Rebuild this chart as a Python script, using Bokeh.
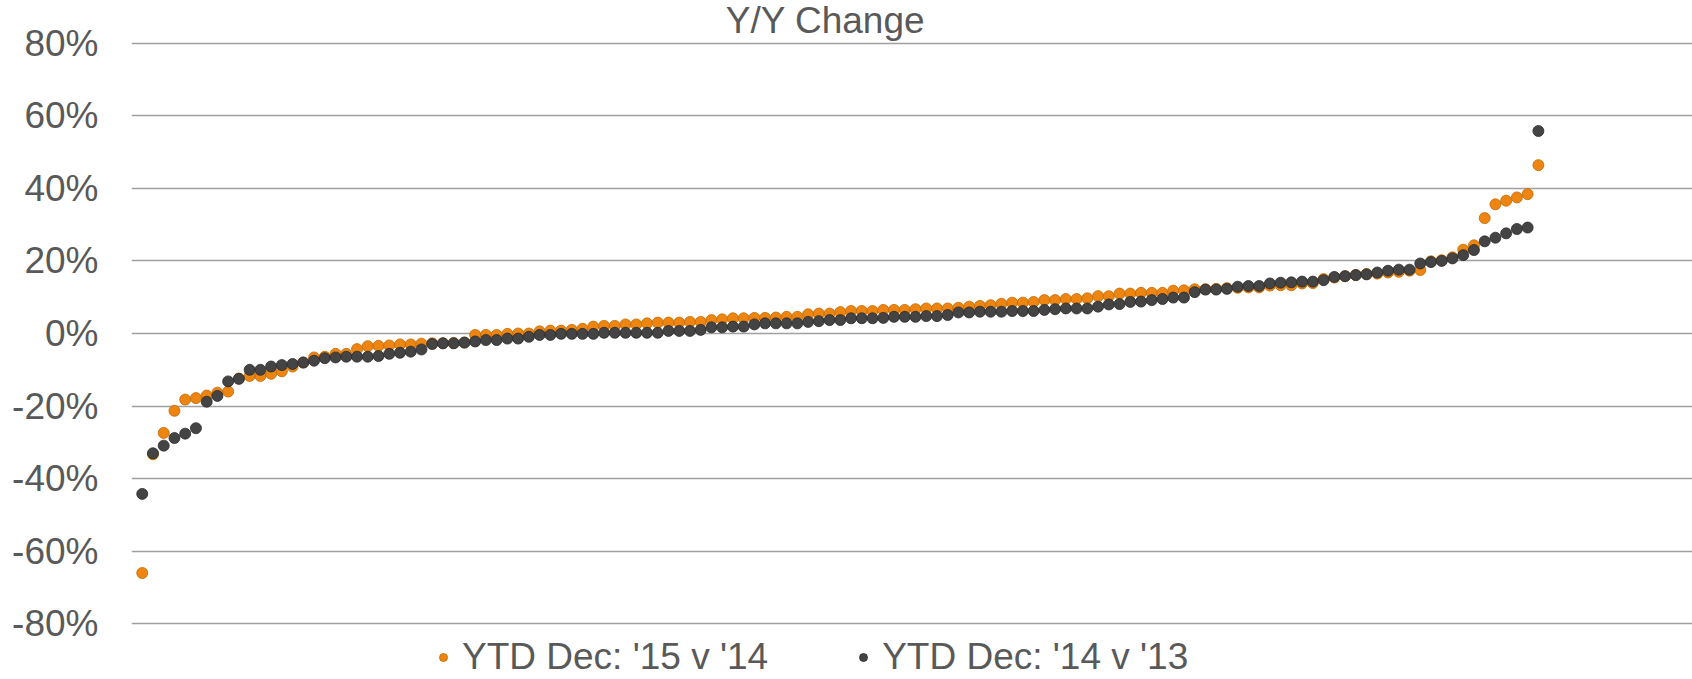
from bokeh.plotting import figure
from bokeh.models import (ColumnDataSource, FixedTicker, PrintfTickFormatter,
                          Legend, LegendItem, Label, Range1d)
from bokeh.embed import file_html
from bokeh.resources import INLINE

title_text = "Y/Y Change"
series_15_label = "YTD Dec: '15 v '14"
series_14_label = "YTD Dec: '14 v '13"

# Y/Y change in percent, each series ranked (sorted) independently
ytd_15_v_14 = [
    -66.0, -33.3, -27.4, -21.3, -18.2, -17.8, -17.1, -16.3, -16.0, -12.4, -11.7, -11.7,
    -11.1, -10.4, -9.1, -8.0, -6.6, -6.4, -5.6, -5.6, -4.3, -3.5,
    -3.4, -3.3, -3.0, -3.0, -2.8, -2.7, -2.7, -2.6, -2.5, -0.4, -0.4, -0.4, -0.1, 0.0,
    0.0, 0.6, 0.8, 0.8, 1.0, 1.3, 1.9,
    2.1, 2.1, 2.5, 2.5, 2.8, 3.0, 3.0, 3.0, 3.2, 3.2, 3.7, 3.9, 4.2, 4.2, 4.3, 4.3,
    4.4, 4.6, 4.6, 5.3, 5.5, 5.5, 5.9,
    6.2, 6.2, 6.2, 6.5, 6.5, 6.5, 6.7, 6.9, 6.9, 6.9, 7.1, 7.4, 7.6, 7.8, 8.2, 8.5,
    8.5, 8.7, 9.2, 9.2, 9.5,
    9.5, 9.7, 10.3, 10.3, 11.0, 11.0, 11.2, 11.2, 11.2, 11.8, 11.9, 12.2,
    12.2, 12.3, 12.5, 12.6, 12.7, 12.7, 13.2, 13.3, 13.3, 13.8, 13.9,
    15.0, 15.4, 15.8, 16.1, 16.4, 16.5, 16.8, 17.0, 17.3, 17.5, 19.9, 20.2, 21.0,
    23.1, 24.3, 31.8, 35.6, 36.6, 37.5, 38.4, 46.4,
]

ytd_14_v_13 = [
    -44.2, -33.0, -30.9, -28.8, -27.6, -26.1, -18.8, -17.2, -13.2, -12.5, -10.0, -10.0,
    -9.1, -8.7, -8.4, -8.0, -7.5, -6.8, -6.6, -6.4, -6.4, -6.4,
    -6.2, -5.6, -5.3, -5.0, -4.4, -2.9, -2.7, -2.7, -2.5, -2.2, -1.8, -1.8, -1.4, -1.4,
    -0.9, -0.4, -0.4, -0.1, -0.1, -0.1, -0.1,
    0.2, 0.2, 0.2, 0.2, 0.2, 0.2, 0.7, 0.7, 0.7, 1.0, 1.7, 1.7, 1.9, 1.9, 2.5, 2.8,
    2.8, 2.8, 2.8, 3.2, 3.4, 3.7, 3.7,
    4.2, 4.2, 4.2, 4.3, 4.6, 4.6, 4.6, 4.8, 4.8, 5.1, 5.8, 5.8, 6.0, 6.0, 6.0, 6.2,
    6.2, 6.2, 6.5, 6.7, 6.9,
    6.9, 6.9, 7.4, 8.0, 8.1, 8.7, 8.8, 9.2, 9.5, 9.9, 9.9, 11.4,
    12.1, 12.1, 12.3, 12.9, 13.1, 13.1, 13.8, 14.0, 14.1, 14.3, 14.3,
    14.7, 15.6, 15.8, 16.1, 16.3, 16.8, 17.3, 17.6, 17.6, 19.3, 19.7, 20.0, 20.7,
    21.6, 23.0, 25.4, 26.4, 27.6, 28.8, 29.2, 55.8,
]

rank = list(range(1, len(ytd_15_v_14) + 1))
y_ticks = [-80, -60, -40, -20, 0, 20, 40, 60, 80]

src = ColumnDataSource(dict(rank=rank, a=ytd_15_v_14, b=ytd_14_v_13))

FONT = "Liberation Sans"
TXT = "#595959"
FS = "37px"

# frame covers the whole canvas height so title/legend are not clipped
p = figure(width=1692, height=679, output_backend="svg", toolbar_location=None,
           x_range=Range1d(0, 145.35), y_range=Range1d(-95.35, 91.77),
           x_axis_location=None, min_border_left=131, min_border_right=0,
           min_border_top=0, min_border_bottom=0)
p.outline_line_color = None
p.xgrid.visible = False
p.ygrid.grid_line_color = "#a0a0a0"
p.ygrid.grid_line_width = 1.5

ax = p.yaxis[0]
ax.ticker = FixedTicker(ticks=y_ticks)
ax.formatter = PrintfTickFormatter(format="%d%%")
ax.axis_line_color = None
ax.major_tick_line_color = None
ax.minor_tick_line_color = None
ax.major_tick_out = 0
ax.major_tick_in = 0
ax.major_label_standoff = 33
ax.major_label_text_font = FONT
ax.major_label_text_font_size = FS
ax.major_label_text_color = TXT

r1 = p.scatter("rank", "a", source=src, size=11, fill_color="#ee8510",
               line_color="#c06800", line_width=0.8)
r2 = p.scatter("rank", "b", source=src, size=11, fill_color="#444444",
               line_color="#2a2a2a", line_width=0.8)

title = Label(x=694, y=659, x_units="screen", y_units="screen", text=title_text,
              text_font=FONT, text_font_size=FS, text_color=TXT,
              text_align="center", text_baseline="alphabetic")
p.add_layout(title)

legend = Legend(items=[LegendItem(label=series_15_label, renderers=[r1]),
                       LegendItem(label=series_14_label, renderers=[r2])],
                orientation="horizontal", location=(302, 1),
                label_text_font=FONT, label_text_font_size=FS,
                label_text_color=TXT, glyph_width=20, glyph_height=20,
                label_standoff=9, spacing=85, padding=0, margin=0,
                border_line_color=None, background_fill_alpha=0)
p.add_layout(legend)

open("out.html", "w").write(file_html(p, INLINE))
